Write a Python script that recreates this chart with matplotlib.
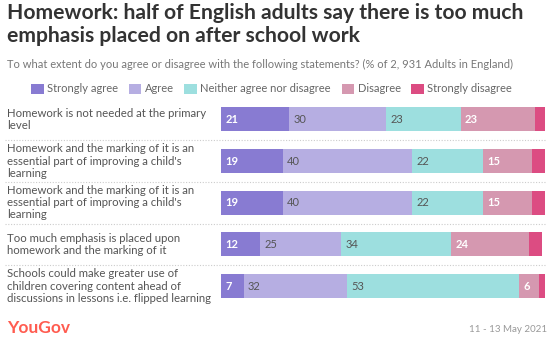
import matplotlib.pyplot as plt
from matplotlib.patches import Patch
from matplotlib.lines import Line2D
from matplotlib.transforms import blended_transform_factory
import numpy as np

plt.rcParams['font.family'] = ['Lato', 'DejaVu Sans']

statements = [
    "Homework is not needed at the primary\nlevel",
    "Homework and the marking of it is an\nessential part of improving a child's\nlearning",
    "Homework and the marking of it is an\nessential part of improving a child's\nlearning",
    "Too much emphasis is placed upon\nhomework and the marking of it",
    "Schools could make greater use of\nchildren covering content ahead of\ndiscussions in lessons i.e. flipped learning",
]
responses = ["Strongly agree", "Agree", "Neither agree nor disagree", "Disagree", "Strongly disagree"]
strongly_agree = [21, 19, 19, 12, 7]
agree = [30, 40, 40, 25, 32]
neither = [23, 22, 22, 34, 53]
disagree = [23, 15, 15, 24, 6]
strongly_disagree = [3, 4, 4, 4, 2]

colors = ["#887bd2", "#b6aee2", "#9ddfdf", "#d598b0", "#dc4c82"]
label_colors = ["white", "#555555", "#555555", "white", "white"]

W, H = 555, 343
fig = plt.figure(figsize=(W / 100, H / 100), dpi=100)
ax = fig.add_axes([221 / W, 37 / H, 324 / W, 207 / H])

series = [strongly_agree, agree, neither, disagree, strongly_disagree]
y = np.arange(len(statements))
bar_h = 0.58
left = np.zeros(len(statements))
for vals, col, tcol in zip(series, colors, label_colors):
    vals = np.array(vals, dtype=float)
    ax.barh(y, vals, left=left, height=bar_h, color=col, linewidth=0)
    for yi, l, v in zip(y, left, vals):
        if v >= 5:
            ax.text(l + 1.3, yi, f"{int(v)}", va="center", ha="left",
                    fontsize=8, color=tcol, fontweight="bold" if tcol == "white" else "normal")
    left += vals

ax.set_xlim(0, 100)
ax.set_ylim(4.48, -0.49)
ax.axis("off")

# row labels and dotted separators
trans = blended_transform_factory(fig.transFigure, ax.transData)
for yi, s in zip(y, statements):
    ax.text(7 / W, yi, s, transform=trans, ha="left", va="center",
            fontsize=8.2, color="#555555", linespacing=1.12)
for yi in y[:-1]:
    fig.add_artist(Line2D([5 / W, 545 / W], [yi + 0.5, yi + 0.5], transform=trans,
                          color="#cccccc", linestyle=(0, (1, 1.5)), linewidth=0.8))

# title and subtitle
fig.text(7 / W, 1 - 3 / H, "Homework: half of English adults say there is too much\nemphasis placed on after school work",
         ha="left", va="top", fontsize=15.2, fontweight="bold", color="#333333", linespacing=1.2)
fig.text(7 / W, 1 - 64 / H, "To what extent do you agree or disagree with the following statements? (% of 2, 931 Adults in England)",
         ha="left", va="center", fontsize=8, color="#777777")

handles = [Patch(facecolor=c, edgecolor="none", label=r) for c, r in zip(colors, responses)]
fig.legend(handles=handles, loc="center left", bbox_to_anchor=(31 / W, 1 - 89 / H), ncol=5,
           frameon=False, fontsize=8, handlelength=1.15, handleheight=1.0, handletextpad=0.3,
           columnspacing=0.95, borderaxespad=0, borderpad=0, labelcolor="#666666")

# footer
fig.text(7 / W, 1 - 328 / H, "YouGov", ha="left", va="center", fontsize=12.5,
         fontweight="bold", color="#ff5c50")
fig.text(547 / W, 1 - 329 / H, "11 - 13 May 2021", ha="right", va="center",
         fontsize=7, color="#999999")

fig.savefig("out.png", dpi=100)
